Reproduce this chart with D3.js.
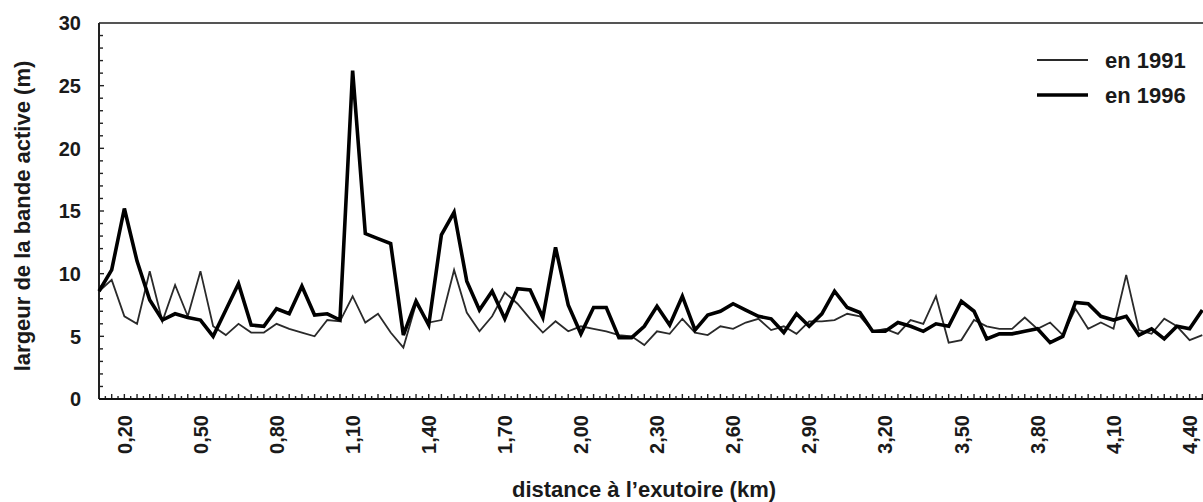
<!DOCTYPE html>
<html>
<head>
<meta charset="utf-8">
<script src="https://cdn.jsdelivr.net/npm/d3@7"></script>
<style>
  html, body { margin: 0; padding: 0; background: #fff; }
  svg { display: block; }
  text { font-family: "Liberation Sans", Arial, Helvetica, sans-serif; font-weight: bold; fill: #1a1a1a; }
</style>
</head>
<body>
<svg id="chart" width="1203" height="502"></svg>
<script>
// distance from the outlet (km), one sample every 50 m
const distances = [
  0.10, 0.15, 0.20, 0.25, 0.30, 0.35, 0.40, 0.45, 0.50, 0.55,
  0.60, 0.65, 0.70, 0.75, 0.80, 0.85, 0.90, 0.95, 1.00, 1.05,
  1.10, 1.15, 1.20, 1.25, 1.30, 1.35, 1.40, 1.45, 1.50, 1.55,
  1.60, 1.65, 1.70, 1.75, 1.80, 1.85, 1.90, 1.95, 2.00, 2.05,
  2.10, 2.15, 2.20, 2.25, 2.30, 2.35, 2.40, 2.45, 2.50, 2.55,
  2.60, 2.65, 2.70, 2.75, 2.80, 2.85, 2.90, 2.95, 3.00, 3.05,
  3.10, 3.15, 3.20, 3.25, 3.30, 3.35, 3.40, 3.45, 3.50, 3.55,
  3.60, 3.65, 3.70, 3.75, 3.80, 3.85, 3.90, 3.95, 4.00, 4.05,
  4.10, 4.15, 4.20, 4.25, 4.30, 4.35, 4.40, 4.45
];

// active channel width (m) in 1991
const width1991 = [
  8.6, 9.5, 6.6, 6.0, 10.2, 6.2, 9.1, 6.6, 10.2, 5.8,
  5.1, 6.0, 5.3, 5.3, 6.0, 5.6, 5.3, 5.0, 6.3, 6.2,
  8.2, 6.1, 6.8, 5.3, 4.1, 7.6, 6.1, 6.3, 10.3, 6.9,
  5.4, 6.6, 8.5, 7.6, 6.4, 5.3, 6.2, 5.4, 5.8, 5.6,
  5.4, 5.1, 5.0, 4.3, 5.4, 5.2, 6.4, 5.3, 5.1, 5.8,
  5.6, 6.1, 6.4, 5.5, 5.8, 5.2, 6.2, 6.2, 6.3, 6.8,
  6.6, 5.4, 5.6, 5.2, 6.3, 6.0, 8.2, 4.5, 4.7, 6.3,
  5.8, 5.6, 5.6, 6.5, 5.6, 6.1, 5.1, 7.2, 5.6, 6.1,
  5.6, 9.9, 5.5, 5.2, 6.4, 5.8, 4.7, 5.1
];

// active channel width (m) in 1996
const width1996 = [
  8.6, 10.3, 15.2, 11.0, 7.9, 6.3, 6.8, 6.5, 6.3, 5.0,
  7.1, 9.2, 5.9, 5.8, 7.2, 6.8, 9.0, 6.7, 6.8, 6.3,
  26.2, 13.2, 12.8, 12.4, 5.1, 7.8, 5.9, 13.1, 14.9, 9.4,
  7.1, 8.6, 6.4, 8.8, 8.7, 6.5, 12.1, 7.5, 5.2, 7.3,
  7.3, 4.9, 4.9, 5.8, 7.4, 5.9, 8.2, 5.5, 6.7, 7.0,
  7.6, 7.1, 6.6, 6.4, 5.3, 6.8, 5.8, 6.8, 8.6, 7.3,
  6.9, 5.4, 5.4, 6.1, 5.8, 5.4, 6.0, 5.8, 7.8, 7.0,
  4.8, 5.2, 5.2, 5.4, 5.6, 4.5, 5.0, 7.7, 7.6, 6.6,
  6.3, 6.6, 5.1, 5.6, 4.8, 5.8, 5.6, 7.1
];

// labelled distances along the x axis
const xTickLabels = ["0,20", "0,50", "0,80", "1,10", "1,40", "1,70", "2,00",
                     "2,30", "2,60", "2,90", "3,20", "3,50", "3,80", "4,10", "4,40"];
const yTickValues = [0, 5, 10, 15, 20, 25, 30];

const seriesNames = ["en 1991", "en 1996"];

const svg = d3.select("#chart");
const plotLeft = 99, plotRight = 1202.3, plotTop = 23, plotBottom = 399;

const x = d3.scaleLinear()
  .domain([distances[0], distances[distances.length - 1]])
  .range([plotLeft, plotRight]);
const y = d3.scaleLinear().domain([0, 30]).range([plotBottom, plotTop]);

// minor y ticks every metre, pointing inward
const yMinor = d3.range(0, 31).filter(v => v % 5 !== 0);
svg.append("g").selectAll("line").data(yMinor).join("line")
  .attr("x1", plotLeft).attr("x2", plotLeft + 4)
  .attr("y1", d => y(d)).attr("y2", d => y(d))
  .attr("stroke", "#222").attr("stroke-width", 1.4);
svg.append("g").selectAll("line").data(yTickValues).join("line")
  .attr("x1", plotLeft).attr("x2", plotLeft + 5)
  .attr("y1", d => y(d)).attr("y2", d => y(d))
  .attr("stroke", "#222").attr("stroke-width", 1.4);

// x ticks: one at each sample, a shorter one halfway between samples
const half = (distances[1] - distances[0]) / 2;
svg.append("g").selectAll("line").data(distances).join("line")
  .attr("x1", d => x(d)).attr("x2", d => x(d))
  .attr("y1", plotBottom).attr("y2", plotBottom - 5)
  .attr("stroke", "#222").attr("stroke-width", 1.4);
svg.append("g").selectAll("line").data(distances).join("line")
  .attr("x1", d => x(d + half)).attr("x2", d => x(d + half))
  .attr("y1", plotBottom).attr("y2", plotBottom - 3)
  .attr("stroke", "#222").attr("stroke-width", 1.4);

// frame: top border and the two axes
svg.append("line").attr("x1", plotLeft).attr("x2", 1203).attr("y1", plotTop).attr("y2", plotTop)
  .attr("stroke", "#555").attr("stroke-width", 2);
svg.append("line").attr("x1", plotLeft).attr("x2", plotLeft).attr("y1", plotTop).attr("y2", plotBottom)
  .attr("stroke", "#222").attr("stroke-width", 2);
svg.append("line").attr("x1", plotLeft).attr("x2", 1203).attr("y1", plotBottom).attr("y2", plotBottom)
  .attr("stroke", "#111").attr("stroke-width", 2);

// y tick labels
svg.append("g").selectAll("text").data(yTickValues).join("text")
  .attr("x", 81).attr("y", d => y(d)).attr("dy", "0.36em")
  .attr("text-anchor", "end").style("font-size", "20px")
  .text(d => d);

// x tick labels, rotated
const labelled = xTickLabels.map(s => +s.replace(",", "."));
svg.append("g").selectAll("text").data(xTickLabels).join("text")
  .attr("transform", (d, i) => `translate(${x(labelled[i])},415) rotate(-90)`)
  .attr("dy", "0.36em").attr("text-anchor", "end").style("font-size", "20px")
  .text(d => d);

// axis titles
svg.append("text")
  .attr("transform", "translate(30,216) rotate(-90)")
  .attr("text-anchor", "middle").style("font-size", "22px")
  .text("largeur de la bande active (m)");
svg.append("text")
  .attr("x", 644).attr("y", 497)
  .attr("text-anchor", "middle").style("font-size", "22px")
  .text("distance à l’exutoire (km)");

// series lines
const line = vals => d3.line().x((d, i) => x(distances[i])).y(d => y(d))(vals);
svg.append("path").attr("d", line(width1991))
  .attr("fill", "none").attr("stroke", "#2a2a2a").attr("stroke-width", 1.8)
  .attr("stroke-linejoin", "miter");
svg.append("path").attr("d", line(width1996))
  .attr("fill", "none").attr("stroke", "#000").attr("stroke-width", 3.6)
  .attr("stroke-linejoin", "miter");

// legend
const legend = svg.append("g");
const legendRows = [
  { name: seriesNames[0], y: 60, w: 1.8, c: "#2a2a2a" },
  { name: seriesNames[1], y: 95, w: 3.6, c: "#000" }
];
legendRows.forEach(r => {
  legend.append("line").attr("x1", 1037).attr("x2", 1088)
    .attr("y1", r.y).attr("y2", r.y)
    .attr("stroke", r.c).attr("stroke-width", r.w);
  legend.append("text").attr("x", 1105).attr("y", r.y).attr("dy", "0.36em")
    .style("font-size", "22px").text(r.name);
});
</script>
</body>
</html>
